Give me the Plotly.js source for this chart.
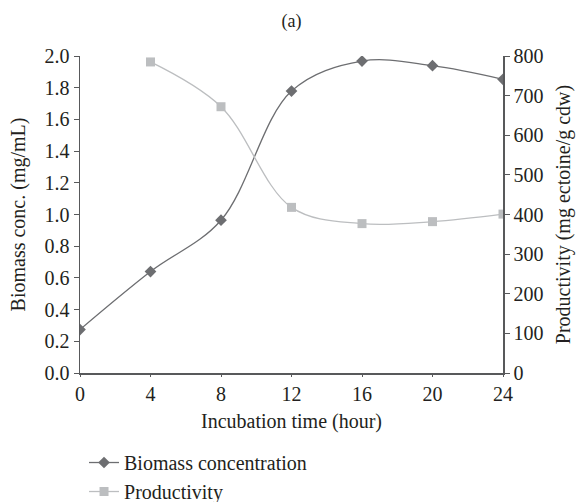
<!DOCTYPE html>
<html>
<head>
<meta charset="utf-8">
<script src="https://cdn.plot.ly/plotly-3.0.1.min.js"></script>
<style>html,body{margin:0;padding:0;background:#fff;}#chart{width:580px;height:502px;}</style>
</head>
<body>
<div id="chart"></div>
<script>
const hoursBiomass = [0, 4, 8, 12, 16, 20, 24];
const biomass = [0.274, 0.64, 0.964, 1.779, 1.968, 1.939, 1.853];
const hoursProd = [4, 8, 12, 16, 20, 24];
const productivity = [785, 672, 418, 377, 382, 401];
const xTicks = [0, 4, 8, 12, 16, 20, 24];

const font = {family: '"Liberation Serif", "DejaVu Serif", serif', color: '#231f20', size: 20};
const axisColor = '#58595b';

const traces = [
  {x: hoursBiomass, y: biomass, name: 'Biomass concentration', type: 'scatter', mode: 'lines+markers',
   line: {color: '#6d6e71', width: 1.3, shape: 'spline', smoothing: 1},
   marker: {symbol: 'diamond', size: 9, color: '#6d6e71'}, yaxis: 'y'},
  {x: hoursProd, y: productivity, name: 'Productivity', type: 'scatter', mode: 'lines+markers',
   line: {color: '#bcbec0', width: 1.3, shape: 'spline', smoothing: 1},
   marker: {symbol: 'square', size: 9, color: '#bcbec0'}, yaxis: 'y2'}
];

const layout = {
  width: 580, height: 502,
  margin: {l: 80, r: 77, t: 56, b: 129},
  paper_bgcolor: '#fff', plot_bgcolor: '#fff',
  font: font,
  showlegend: true,
  title: {text: '(a)', x: 0.5, xref: 'paper', y: 0.958, yanchor: 'middle', font: {family: font.family, size: 18, color: '#231f20'}},
  xaxis: {range: [0, 24], tickvals: xTicks, showgrid: false, zeroline: false, showline: true,
    linecolor: axisColor, linewidth: 1.5, ticks: 'outside', ticklen: 2, tickcolor: axisColor,
    title: {text: 'Incubation time (hour)', font: font, standoff: 10}},
  yaxis: {range: [0, 2.0], dtick: 0.2, tickformat: '.1f', showgrid: false, zeroline: false, showline: true,
    linecolor: axisColor, linewidth: 1.5, ticks: 'outside', ticklen: 5, tickcolor: axisColor,
    title: {text: 'Biomass conc. (mg/mL)', font: font, standoff: 13}},
  yaxis2: {range: [0, 800], dtick: 100, overlaying: 'y', side: 'right', showgrid: false, zeroline: false, showline: true,
    linecolor: axisColor, linewidth: 1.5, ticks: 'outside', ticklen: 5, tickcolor: axisColor,
    title: {text: 'Productivity (mg ectoine/g cdw)', font: font, standoff: 13}},
  legend: {xref: 'paper', yref: 'container', x: 0.0095, xanchor: 'left', y: 0.1175, yanchor: 'top', orientation: 'v', font: font, bgcolor: 'rgba(0,0,0,0)', tracegroupgap: 0, itemwidth: 30}
};

Plotly.newPlot('chart', traces, layout, {displayModeBar: false, staticPlot: true});
</script>
</body>
</html>
